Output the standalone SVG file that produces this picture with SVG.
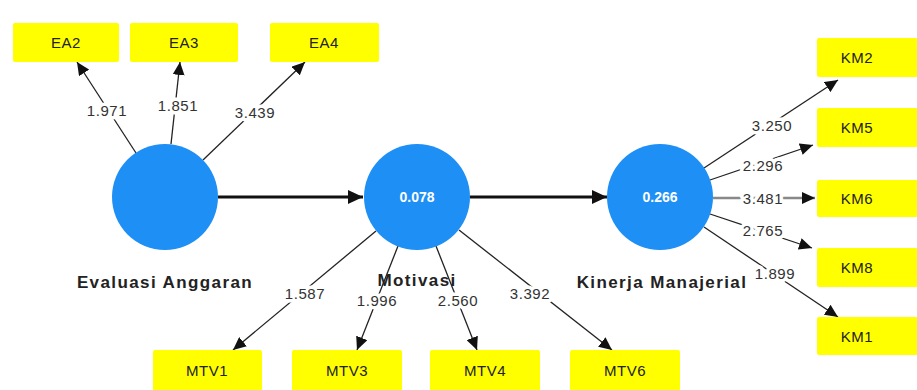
<svg xmlns="http://www.w3.org/2000/svg" width="917" height="390" viewBox="0 0 917 390">
<style>
.box{fill:#FFFF00;}
.bt{font-family:"Liberation Sans",Arial,sans-serif;font-size:15px;letter-spacing:0.5px;fill:#222;text-anchor:middle;}
.lv{fill:#1E8FF5;}
.lvt{font-family:"Liberation Sans",Arial,sans-serif;font-size:14px;font-weight:bold;fill:#fff;text-anchor:middle;}
.nm{font-family:"Liberation Sans",Arial,sans-serif;font-size:17px;letter-spacing:1.4px;font-weight:bold;fill:#222;text-anchor:middle;}
.ld{stroke:#222;stroke-width:1.3;fill:none;marker-end:url(#ah);}
.st{stroke:#111;stroke-width:3;fill:none;marker-end:url(#ahb);}
.lb{font-family:"Liberation Sans",Arial,sans-serif;font-size:15px;letter-spacing:0.6px;fill:#333;text-anchor:middle;stroke:#fff;stroke-width:7;paint-order:stroke;stroke-linejoin:round;}
</style>
<defs>
<marker id="ah" markerUnits="userSpaceOnUse" markerWidth="14" markerHeight="12" refX="13" refY="6" orient="auto"><path d="M0,0 L13,6 L0,12 z" fill="#111"/></marker>
<marker id="ahb" markerUnits="userSpaceOnUse" markerWidth="16" markerHeight="14" refX="15" refY="7" orient="auto"><path d="M0,0 L15,7 L0,14 z" fill="#111"/></marker>
</defs>
<rect width="917" height="390" fill="#fff"/>
<g id="connectors">
<line class="ld" x1="136" y1="153" x2="77" y2="62"/>
<line class="ld" x1="171" y1="144" x2="180" y2="62"/>
<line class="ld" x1="203" y1="160" x2="305" y2="62"/>
<line class="st" x1="218" y1="197" x2="363" y2="197"/>
<line class="st" x1="470" y1="197" x2="607" y2="197"/>
<line class="ld" x1="704" y1="168" x2="838" y2="80"/>
<line class="ld" x1="710" y1="180" x2="813" y2="145"/>
<line class="ld" x1="713" y1="198" x2="815" y2="198" style="stroke:#888;stroke-width:2.5"/>
<line class="ld" x1="710" y1="214" x2="812" y2="248"/>
<line class="ld" x1="704" y1="227" x2="838" y2="317"/>
<line class="ld" x1="376" y1="231" x2="233" y2="350"/>
<line class="ld" x1="398" y1="246" x2="357" y2="350"/>
<line class="ld" x1="436" y1="246" x2="477" y2="350"/>
<line class="ld" x1="459" y1="230" x2="612" y2="350"/>
<text class="lb" x="107" y="116">1.971</text>
<text class="lb" x="178" y="111">1.851</text>
<text class="lb" x="255" y="118">3.439</text>
<text class="lb" x="772" y="131">3.250</text>
<text class="lb" x="763" y="171">2.296</text>
<text class="lb" x="763" y="204">3.481</text>
<text class="lb" x="763" y="236">2.765</text>
<text class="lb" x="775" y="279">1.899</text>
<text class="lb" x="305" y="299">1.587</text>
<text class="lb" x="377" y="306">1.996</text>
<text class="lb" x="458" y="306">2.560</text>
<text class="lb" x="530" y="299">3.392</text>
</g>
<g id="EA2"><rect class="box" x="13" y="23" width="106" height="39" rx="2"/><text class="bt" x="66" y="48">EA2</text></g>
<g id="EA3"><rect class="box" x="130" y="23" width="108" height="39" rx="2"/><text class="bt" x="184" y="48">EA3</text></g>
<g id="EA4"><rect class="box" x="270" y="23" width="109" height="39" rx="2"/><text class="bt" x="324" y="48">EA4</text></g>
<g id="KM2"><rect class="box" x="817" y="38" width="105" height="39" rx="2"/><text class="bt" x="857" y="63">KM2</text></g>
<g id="KM5"><rect class="box" x="817" y="108" width="105" height="39" rx="2"/><text class="bt" x="857" y="133">KM5</text></g>
<g id="KM6"><rect class="box" x="817" y="180" width="105" height="37" rx="2"/><text class="bt" x="857" y="204">KM6</text></g>
<g id="KM8"><rect class="box" x="817" y="248" width="105" height="39" rx="2"/><text class="bt" x="857" y="273">KM8</text></g>
<g id="KM1"><rect class="box" x="817" y="317" width="105" height="38" rx="2"/><text class="bt" x="857" y="342">KM1</text></g>
<g id="MTV1"><rect class="box" x="153" y="350" width="109" height="45" rx="2"/><text class="bt" x="207" y="376">MTV1</text></g>
<g id="MTV3"><rect class="box" x="292" y="350" width="110" height="45" rx="2"/><text class="bt" x="347" y="376">MTV3</text></g>
<g id="MTV4"><rect class="box" x="430" y="350" width="110" height="45" rx="2"/><text class="bt" x="485" y="376">MTV4</text></g>
<g id="MTV6"><rect class="box" x="570" y="350" width="110" height="45" rx="2"/><text class="bt" x="625" y="376">MTV6</text></g>
<g id="EvaluasiAnggaran"><circle class="lv" cx="165" cy="197" r="53"/><text class="nm" x="165" y="288">Evaluasi Anggaran</text></g>
<g id="Motivasi"><circle class="lv" cx="417" cy="197" r="53"/><text class="lvt" x="417" y="202">0.078</text><text class="nm" x="417" y="286">Motivasi</text></g>
<g id="KinerjaManajerial"><circle class="lv" cx="660" cy="197" r="53"/><text class="lvt" x="660" y="202">0.266</text><text class="nm" x="662" y="288">Kinerja Manajerial</text></g>
</svg>
